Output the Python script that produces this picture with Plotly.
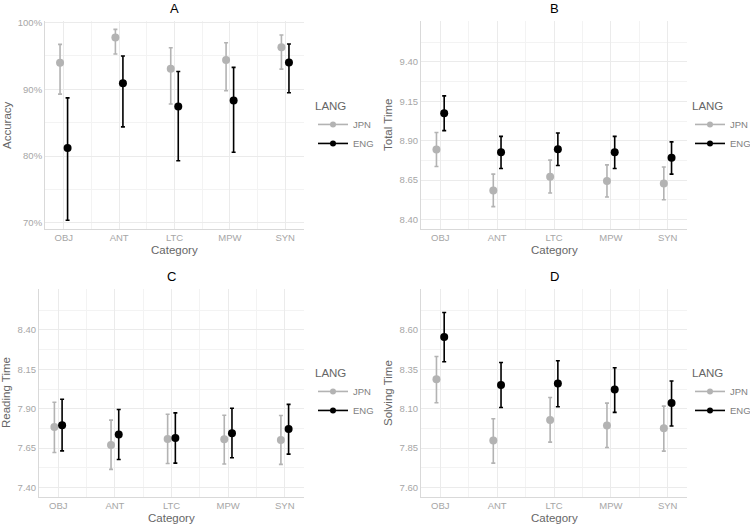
import numpy as np
import plotly.graph_objects as go

categories = ["OBJ", "ANT", "LTC", "MPW", "SYN"]
langs = ["JPN", "ENG"]

# Panel A: Accuracy (fraction)
acc_jpn = [0.9396, 0.9775, 0.9306, 0.9436, 0.9626]
acc_jpn_hi = [0.967, 0.9895, 0.962, 0.9695, 0.981]
acc_jpn_lo = [0.8927, 0.9526, 0.878, 0.8977, 0.930]
acc_eng = [0.812, 0.909, 0.874, 0.883, 0.940]
acc_eng_hi = [0.887, 0.9496, 0.9266, 0.9326, 0.9675]
acc_eng_lo = [0.704, 0.8437, 0.793, 0.8058, 0.8947]

# Panel B: Total Time
tot_jpn = [8.844, 8.585, 8.672, 8.644, 8.629]
tot_jpn_hi = [8.952, 8.688, 8.777, 8.747, 8.733]
tot_jpn_lo = [8.737, 8.482, 8.568, 8.543, 8.526]
tot_eng = [9.074, 8.827, 8.846, 8.827, 8.792]
tot_eng_hi = [9.185, 8.928, 8.949, 8.928, 8.893]
tot_eng_lo = [8.964, 8.724, 8.743, 8.724, 8.688]

# Panel C: Reading Time
read_jpn = [7.784, 7.670, 7.708, 7.706, 7.702]
read_jpn_hi = [7.941, 7.828, 7.865, 7.859, 7.857]
read_jpn_lo = [7.622, 7.515, 7.553, 7.549, 7.547]
read_eng = [7.796, 7.737, 7.714, 7.744, 7.771]
read_eng_hi = [7.960, 7.895, 7.874, 7.903, 7.928]
read_eng_lo = [7.633, 7.578, 7.555, 7.589, 7.612]

# Panel D: Solving Time
solv_jpn = [8.287, 7.898, 8.029, 7.993, 7.976]
solv_jpn_hi = [8.432, 8.037, 8.171, 8.136, 8.117]
solv_jpn_lo = [8.138, 7.755, 7.888, 7.854, 7.831]
solv_eng = [8.556, 8.251, 8.260, 8.222, 8.136]
solv_eng_hi = [8.711, 8.394, 8.405, 8.360, 8.276]
solv_eng_lo = [8.398, 8.108, 8.113, 8.077, 7.991]

# tick values
acc_ticks = [0.70, 0.80, 0.90, 1.00]
tot_ticks = [8.40, 8.65, 8.90, 9.15, 9.40]
read_ticks = [7.40, 7.65, 7.90, 8.15, 8.40]
solv_ticks = [7.60, 7.85, 8.10, 8.35, 8.60]

W, H = 750, 526
FONT = "Liberation Sans, Arial"
colors = {"JPN": "#b3b3b3", "ENG": "#000000"}
dodge = {"JPN": -0.068, "ENG": 0.068}

panels = [
    dict(title="A", ytitle="Accuracy", data={"JPN": (acc_jpn, acc_jpn_lo, acc_jpn_hi), "ENG": (acc_eng, acc_eng_lo, acc_eng_hi)},
         ticks=acc_ticks, fmt=".0%", yrange=[0.691, 1.002], px=(45, 304), py=(21, 229), ytx=7, leg=(313, 95)),
    dict(title="B", ytitle="Total Time", data={"JPN": (tot_jpn, tot_jpn_lo, tot_jpn_hi), "ENG": (tot_eng, tot_eng_lo, tot_eng_hi)},
         ticks=tot_ticks, fmt=".2f", yrange=[8.34, 9.66], px=(421, 687), py=(21, 229), ytx=388, leg=(690, 95)),
    dict(title="C", ytitle="Reading Time", data={"JPN": (read_jpn, read_jpn_lo, read_jpn_hi), "ENG": (read_eng, read_eng_lo, read_eng_hi)},
         ticks=read_ticks, fmt=".2f", yrange=[7.34, 8.66], px=(39, 304), py=(289, 497), ytx=6, leg=(313, 362)),
    dict(title="D", ytitle="Solving Time", data={"JPN": (solv_jpn, solv_jpn_lo, solv_jpn_hi), "ENG": (solv_eng, solv_eng_lo, solv_eng_hi)},
         ticks=solv_ticks, fmt=".2f", yrange=[7.54, 8.86], px=(421, 687), py=(289, 497), ytx=388, leg=(690, 362)),
]

fig = go.Figure()
xpos = np.arange(1, len(categories) + 1)
annotations = []
layout_axes = {}
for i, p in enumerate(panels):
    n = "" if i == 0 else str(i + 1)
    xa, ya = "x" + n, "y" + n
    legname = "legend" + n
    for lang in langs:
        y, lo, hi = p["data"][lang]
        y = np.array(y); lo = np.array(lo); hi = np.array(hi)
        fig.add_trace(go.Scatter(
            x=xpos + dodge[lang], y=y, mode="markers",
            marker=dict(color=colors[lang], size=8),
            error_y=dict(type="data", symmetric=False, array=hi - y, arrayminus=y - lo,
                         color=colors[lang], thickness=1.6, width=2),
            xaxis=xa, yaxis=ya, showlegend=False, name=lang, hoverinfo="skip"))
        fig.add_trace(go.Scatter(
            x=[None], y=[None], mode="lines+markers", name=lang,
            marker=dict(color=colors[lang], size=6), line=dict(color=colors[lang], width=1.6),
            xaxis=xa, yaxis=ya, showlegend=True, legend=legname))
    x0, x1 = p["px"]; y0, y1 = p["py"]
    ticks = p["ticks"]
    step = ticks[1] - ticks[0]
    minor_y = [t + step / 2 for t in ticks] + [ticks[0] - step / 2]
    layout_axes["xaxis" + n] = dict(
        domain=[x0 / W, x1 / W], anchor=ya, range=[0.66, 5.34],
        tickvals=list(xpos), ticktext=categories, showgrid=True, gridcolor="#ebebeb", gridwidth=1,
        minor=dict(tickvals=list(xpos[:-1] + 0.5), showgrid=True, gridcolor="#f3f3f3", gridwidth=1),
        showline=True, linecolor="#d9d9d9", linewidth=1, zeroline=False, ticks="",
        tickfont=dict(family=FONT, size=9.5, color="#a6a6a6"), fixedrange=True)
    layout_axes["yaxis" + n] = dict(
        domain=[1 - y1 / H, 1 - y0 / H], anchor=xa, range=p["yrange"],
        tickvals=ticks, tickformat=p["fmt"], showgrid=True, gridcolor="#ebebeb", gridwidth=1,
        minor=dict(tickvals=minor_y, showgrid=True, gridcolor="#f3f3f3", gridwidth=1),
        showline=True, linecolor="#d9d9d9", linewidth=1, zeroline=False, ticks="",
        tickfont=dict(family=FONT, size=9.5, color="#a6a6a6"), fixedrange=True)
    cx = (x0 + x1) / 2 / W
    annotations.append(dict(text=p["title"], x=cx, y=1 - (y0 - 12.5) / H, xref="paper", yref="paper",
                            showarrow=False, xanchor="center", yanchor="middle",
                            font=dict(family=FONT, size=13, color="#000000")))
    annotations.append(dict(text="Category", x=cx, y=1 - (y1 + 21) / H, xref="paper", yref="paper",
                            showarrow=False, xanchor="center", yanchor="middle",
                            font=dict(family=FONT, size=11.5, color="#666666")))
    annotations.append(dict(text=p["ytitle"], x=p["ytx"] / W, y=1 - ((y0 + y1) / 2) / H, xref="paper", yref="paper",
                            showarrow=False, xanchor="center", yanchor="middle", textangle=-90,
                            font=dict(family=FONT, size=11.5, color="#666666")))
    lx, ly = p["leg"]
    layout_axes[legname] = dict(
        x=lx / W, y=1 - ly / H, xanchor="left", yanchor="top", bgcolor="rgba(0,0,0,0)",
        title=dict(text="LANG", font=dict(family=FONT, size=11.5, color="#666666")),
        font=dict(family=FONT, size=9.5, color="#808080"),
        itemwidth=30, tracegroupgap=0)

fig.update_layout(
    width=W, height=H, margin=dict(l=0, r=0, t=0, b=0, autoexpand=False),
    paper_bgcolor="white", plot_bgcolor="white",
    annotations=annotations, **layout_axes)

fig.write_html("out.html")
